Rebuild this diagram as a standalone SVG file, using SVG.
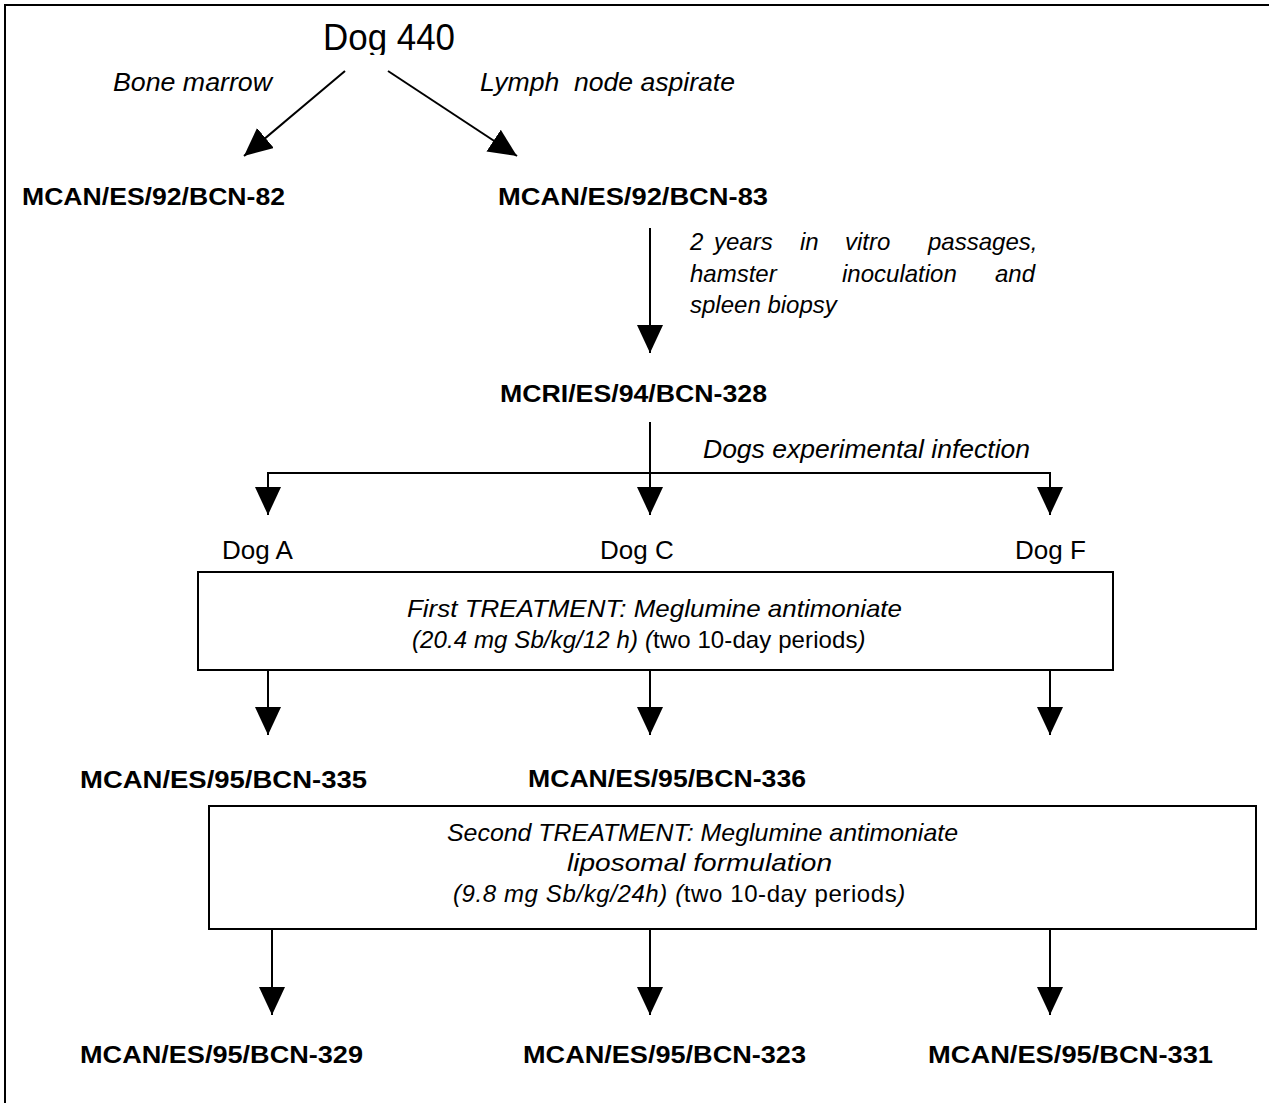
<svg xmlns="http://www.w3.org/2000/svg" width="1269" height="1103" viewBox="0 0 1269 1103">
<style>
text{font-family:"Liberation Sans",Arial,sans-serif;fill:#000}
.lbl{font-size:26px;font-style:italic}
.sm{font-size:24px;font-style:italic}
.id{font-size:24px;font-weight:bold}
.dog{font-size:26px}
.up{font-size:24px;font-style:normal}
.ln{stroke:#000;stroke-width:2;fill:none}
.box{stroke:#000;stroke-width:2;fill:#fff}
</style>
<defs>
<marker id="ah" markerUnits="userSpaceOnUse" markerWidth="30" markerHeight="28" refX="28" refY="13" orient="auto">
<path d="M0,0 L28,13 L0,26 Z" fill="#000"/>
</marker>
<clipPath id="dogclip"><rect x="300" y="0" width="200" height="55"/></clipPath>
</defs>
<rect width="1269" height="1103" fill="#fff"/>
<path class="ln" d="M5,1103 V5 H1269" stroke-width="3"/>

<g id="connectors">
<line class="ln" x1="345" y1="71" x2="244" y2="156" marker-end="url(#ah)"/>
<line class="ln" x1="388" y1="71" x2="517" y2="156" marker-end="url(#ah)"/>
<line class="ln" x1="650" y1="228" x2="650" y2="353" marker-end="url(#ah)"/>
<line class="ln" x1="650" y1="422" x2="650" y2="515" marker-end="url(#ah)"/>
<line class="ln" x1="268" y1="473" x2="1050" y2="473"/>
<line class="ln" x1="268" y1="472" x2="268" y2="515" marker-end="url(#ah)"/>
<line class="ln" x1="1050" y1="472" x2="1050" y2="515" marker-end="url(#ah)"/>
<line class="ln" x1="268" y1="670" x2="268" y2="735" marker-end="url(#ah)"/>
<line class="ln" x1="650" y1="670" x2="650" y2="735" marker-end="url(#ah)"/>
<line class="ln" x1="1050" y1="670" x2="1050" y2="735" marker-end="url(#ah)"/>
<line class="ln" x1="272" y1="929" x2="272" y2="1015" marker-end="url(#ah)"/>
<line class="ln" x1="650" y1="929" x2="650" y2="1015" marker-end="url(#ah)"/>
<line class="ln" x1="1050" y1="929" x2="1050" y2="1015" marker-end="url(#ah)"/>
</g>

<g id="dog440"><text x="323" y="50" font-size="36" textLength="132" lengthAdjust="spacingAndGlyphs" clip-path="url(#dogclip)">Dog 440</text></g>
<g id="lbl-bone"><text class="lbl" x="113" y="91" textLength="159" lengthAdjust="spacingAndGlyphs">Bone marrow</text></g>
<g id="lbl-lymph"><text class="lbl" x="480" y="91" textLength="255" lengthAdjust="spacingAndGlyphs" xml:space="preserve">Lymph  node aspirate</text></g>
<g id="bcn82"><text class="id" x="22" y="205" textLength="263" lengthAdjust="spacingAndGlyphs">MCAN/ES/92/BCN-82</text></g>
<g id="bcn83"><text class="id" x="498" y="205" textLength="270" lengthAdjust="spacingAndGlyphs">MCAN/ES/92/BCN-83</text></g>
<g id="lbl-passages">
<text class="sm" y="250"><tspan x="690">2</tspan><tspan x="714">years</tspan><tspan x="800">in</tspan><tspan x="845">vitro</tspan><tspan x="928">passages,</tspan></text>
<text class="sm" y="282"><tspan x="690">hamster</tspan><tspan x="842">inoculation</tspan><tspan x="995">and</tspan></text>
<text class="sm" x="690" y="313">spleen biopsy</text>
</g>
<g id="bcn328"><text class="id" x="500" y="402" textLength="267" lengthAdjust="spacingAndGlyphs">MCRI/ES/94/BCN-328</text></g>
<g id="lbl-infection"><text class="lbl" x="703" y="458" textLength="327" lengthAdjust="spacingAndGlyphs">Dogs experimental infection</text></g>
<g id="dogA"><text class="dog" x="222" y="559">Dog A</text></g>
<g id="dogC"><text class="dog" x="600" y="559">Dog C</text></g>
<g id="dogF"><text class="dog" x="1015" y="559">Dog F</text></g>

<g id="treatment1">
<rect class="box" x="198" y="572" width="915" height="98"/>
<text class="sm" x="407" y="617" textLength="495" lengthAdjust="spacingAndGlyphs">First TREATMENT: Meglumine antimoniate</text>
<text class="sm" x="412" y="648" letter-spacing="0.1">(20.4 mg Sb/kg/12 h) (<tspan class="up">two 10-day periods</tspan>)</text>
</g>

<g id="bcn335"><text class="id" x="80" y="788" textLength="287" lengthAdjust="spacingAndGlyphs">MCAN/ES/95/BCN-335</text></g>
<g id="bcn336"><text class="id" x="528" y="787" textLength="278" lengthAdjust="spacingAndGlyphs">MCAN/ES/95/BCN-336</text></g>

<g id="treatment2">
<rect class="box" x="209" y="806" width="1047" height="123"/>
<text class="sm" x="447" y="841" textLength="511" lengthAdjust="spacingAndGlyphs">Second TREATMENT: Meglumine antimoniate</text>
<text class="sm" x="567" y="871" textLength="265" lengthAdjust="spacingAndGlyphs">liposomal formulation</text>
<text class="sm" x="453" y="902" letter-spacing="0.6">(9.8 mg Sb/kg/24h) (<tspan class="up">two 10-day periods</tspan>)</text>
</g>

<g id="bcn329"><text class="id" x="80" y="1063" textLength="283" lengthAdjust="spacingAndGlyphs">MCAN/ES/95/BCN-329</text></g>
<g id="bcn323"><text class="id" x="523" y="1063" textLength="283" lengthAdjust="spacingAndGlyphs">MCAN/ES/95/BCN-323</text></g>
<g id="bcn331"><text class="id" x="928" y="1063" textLength="285" lengthAdjust="spacingAndGlyphs">MCAN/ES/95/BCN-331</text></g>
</svg>
